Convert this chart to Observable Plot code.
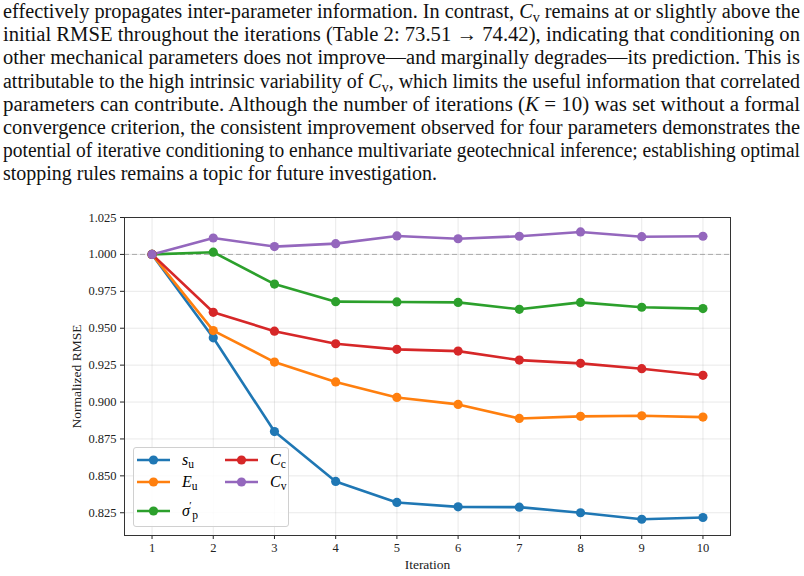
<!DOCTYPE html>
<html>
<head>
<meta charset="utf-8">
<script src="https://cdn.jsdelivr.net/npm/d3@7"></script>
<script src="https://cdn.jsdelivr.net/npm/@observablehq/plot@0.6"></script>
<style>
  html, body { margin: 0; padding: 0; background: white; }
  #page { position: relative; width: 804px; height: 576px; overflow: hidden; font-family: "Liberation Serif", "DejaVu Serif", serif; }
  #para { position: absolute; left: 3px; top: 0px; width: 797px; font-size: 20px; line-height: 23.2px; color: #111; }
  #para .ln { white-space: nowrap; display: block; height: 23.2px; line-height: 23.2px; transform-origin: 0 50%; }
  .m { font-style: italic; }
  .sub { font-size: 0.7em; vertical-align: -0.25em; font-style: normal; line-height: 0; }
  #chart { position: absolute; left: 0; top: 190px; }
  #legend { position: absolute; left: 133px; top: 447px; width: 156px; height: 80px; box-sizing: border-box;
            border: 1px solid #d0d0d0; border-radius: 3px; background: rgba(255,255,255,0.85); }
  .lg { position: absolute; display: flex; align-items: center; font-size: 16px; }
  .lg .lab { margin-left: 12px; font-style: italic; white-space: nowrap; line-height: 1; }
  .lg .lab .sub { font-size: 0.72em; vertical-align: -0.3em; }
</style>
</head>
<body>
<div id="page">
  <div id="para">
    <span class="ln">effectively propagates inter-parameter information. In contrast, <span class="m">C</span><span class="sub">v</span> remains at or slightly above the</span>
    <span class="ln">initial RMSE throughout the iterations (Table 2: 73.51 → 74.42), indicating that conditioning on</span>
    <span class="ln">other mechanical parameters does not improve—and marginally degrades—its prediction. This is</span>
    <span class="ln">attributable to the high intrinsic variability of <span class="m">C</span><span class="sub">v</span>, which limits the useful information that correlated</span>
    <span class="ln">parameters can contribute. Although the number of iterations (<span class="m">K</span> = 10) was set without a formal</span>
    <span class="ln">convergence criterion, the consistent improvement observed for four parameters demonstrates the</span>
    <span class="ln">potential of iterative conditioning to enhance multivariate geotechnical inference; establishing optimal</span>
    <span class="ln last">stopping rules remains a topic for future investigation.</span>
  </div>
  <div id="chart"></div>
  <div id="legend"></div>
</div>
<script>
// ---- data ----
const iterations = [1, 2, 3, 4, 5, 6, 7, 8, 9, 10];
const seriesNames = ["su", "Eu", "sigp", "Cc", "Cv"];
const seriesColors = ["#1f77b4", "#ff7f0e", "#2ca02c", "#d62728", "#9467bd"];
const su   = [1.000, 0.9435, 0.8800, 0.8462, 0.8320, 0.8290, 0.8288, 0.8250, 0.8206, 0.8218];
const Eu   = [1.000, 0.9484, 0.9271, 0.9136, 0.9031, 0.8984, 0.8889, 0.8903, 0.8907, 0.8898];
const sigp = [1.000, 1.0015, 0.9799, 0.9680, 0.9678, 0.9675, 0.9628, 0.9675, 0.9642, 0.9633];
const Cc   = [1.000, 0.9608, 0.9480, 0.9395, 0.9357, 0.9345, 0.9284, 0.9262, 0.9226, 0.9181];
const Cv   = [1.000, 1.0111, 1.0053, 1.0073, 1.0125, 1.0106, 1.0123, 1.0152, 1.0120, 1.0123];
const yTicks = [0.825, 0.850, 0.875, 0.900, 0.925, 0.950, 0.975, 1.000, 1.025];
const legendLabels = [
  '<span>s</span><span class="sub">u</span>',
  '<span>E</span><span class="sub">u</span>',
  '<span>σ</span><span style="position:relative;top:-0.6em;left:-0.05em;font-style:normal;font-size:0.7em">′</span><span class="sub">p</span>',
  '<span>C</span><span class="sub">c</span>',
  '<span>C</span><span class="sub">v</span>'
];

const seriesValues = [su, Eu, sigp, Cc, Cv];
const rows = [];
seriesNames.forEach((name, si) => {
  seriesValues[si].forEach((v, i) => rows.push({series: name, k: iterations[i], v}));
});

// ---- justify paragraph lines (fit each line to the column width) ----
const lines = Array.from(document.querySelectorAll("#para .ln"));
lines.forEach(el => {
  el.style.display = "inline-block";
  const w = el.getBoundingClientRect().width;
  el.style.display = "block";
  const target = el.classList.contains("last") ? 434 : 797;
  el.style.transform = `scaleX(${target / w})`;
});

// ---- chart ----
const chart = Plot.plot({
  width: 804,
  height: 386,
  marginTop: 27,
  marginBottom: 41,
  marginLeft: 124,
  marginRight: 74,
  style: {fontFamily: "'Liberation Serif', serif", fontSize: "12.5px", background: "transparent", color: "#222"},
  x: {domain: [0.55, 10.45]},
  y: {domain: [0.8096, 1.025]},
  color: {domain: seriesNames, range: seriesColors},
  marks: [
    Plot.gridX(iterations, {stroke: "#b0b0b0", strokeOpacity: 0.35, strokeWidth: 0.8}),
    Plot.gridY(yTicks, {stroke: "#b0b0b0", strokeOpacity: 0.35, strokeWidth: 0.8}),
    Plot.ruleY([1], {stroke: "#999", strokeOpacity: 0.8, strokeDasharray: "5,3", strokeWidth: 1}),
    Plot.line(rows, {x: "k", y: "v", z: "series", stroke: "series", strokeWidth: 2.6}),
    Plot.dot(rows, {x: "k", y: "v", fill: "series", r: 4.6}),
    Plot.axisX({ticks: iterations, tickFormat: d => String(d), tickSize: 4, tickPadding: 4,
                label: "Iteration", labelAnchor: "center", labelArrow: "none", labelOffset: 33}),
    Plot.axisY({ticks: yTicks, tickFormat: d3.format(".3f"), tickSize: 4, tickPadding: 4,
                label: "Normalized RMSE", labelAnchor: "center", labelArrow: "none", labelOffset: 53}),
    Plot.frame({stroke: "#333", strokeWidth: 1})
  ]
});
document.getElementById("chart").appendChild(chart);
chart.querySelectorAll("[aria-label='x-axis label'] text, [aria-label='y-axis label'] text").forEach(t => t.style.fontSize = "13.5px");

// ---- legend ----
const legend = document.getElementById("legend");
const positions = [[3, 12], [3, 34], [3, 63], [91, 12], [91, 34]];
seriesNames.forEach((name, i) => {
  const d = document.createElement("div");
  d.className = "lg";
  d.style.left = positions[i][0] + "px";
  d.style.top = (positions[i][1] - 10) + "px";
  d.style.height = "20px";
  d.innerHTML = `<svg width="33" height="12"><line x1="0" x2="33" y1="6" y2="6" stroke="${seriesColors[i]}" stroke-width="2.6"/><circle cx="16.5" cy="6" r="4.6" fill="${seriesColors[i]}"/></svg><span class="lab">${legendLabels[i]}</span>`;
  legend.appendChild(d);
});
</script>
</body>
</html>
